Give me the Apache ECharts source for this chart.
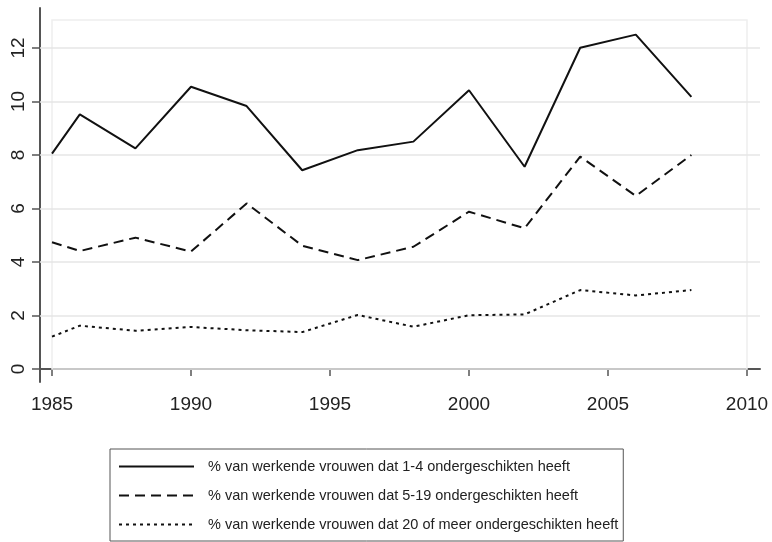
<!DOCTYPE html>
<html>
<head>
<meta charset="utf-8">
<script src="https://cdn.jsdelivr.net/npm/echarts@6/dist/echarts.min.js"></script>
<style>
  html, body { margin: 0; padding: 0; background: #fff; }
  #chart { width: 772px; height: 542px; }
</style>
</head>
<body>
<div id="chart"></div>
<script>
// jaren en percentages
const years = [1985, 1986, 1988, 1990, 1992, 1994, 1996, 1998, 2000, 2002, 2004, 2006, 2008];
const small = [8.05, 9.52, 8.25, 10.55, 9.83, 7.43, 8.18, 8.5, 10.42, 7.56, 12.01, 12.5, 10.17];
const medium = [4.74, 4.41, 4.91, 4.39, 6.19, 4.61, 4.07, 4.57, 5.88, 5.26, 7.94, 6.47, 8.0];
const large = [1.21, 1.62, 1.43, 1.57, 1.45, 1.38, 2.02, 1.58, 2.01, 2.04, 2.95, 2.75, 2.95];
const seriesNames = [
  '% van werkende vrouwen dat 1-4 ondergeschikten heeft',
  '% van werkende vrouwen dat 5-19 ondergeschikten heeft',
  '% van werkende vrouwen dat 20 of meer ondergeschikten heeft'
];
const xTicks = [1985, 1990, 1995, 2000, 2005, 2010];
const yTicks = [0, 2, 4, 6, 8, 10, 12];

const pairs = (vals) => years.map((y, i) => [y, vals[i]]);
const gridColor = '#e6e6e6';
const axisColor = '#555';
const font = 'Liberation Sans, Arial, sans-serif';

const chart = echarts.init(document.getElementById('chart'));

const lineSeries = (name, vals, type, width) => ({
  name: name,
  type: 'line',
  data: pairs(vals),
  showSymbol: false,
  symbol: 'none',
  lineStyle: { color: '#111', width: width, type: type },
  itemStyle: { color: '#111' },
  z: 5
});

const option = {
  animation: false,
  grid: { left: 40, right: 12, top: 8, bottom: 160 },
  xAxis: {
    type: 'value',
    min: 1984.568,
    max: 2010.468,
    axisLine: { show: true, lineStyle: { color: axisColor, width: 2 } },
    axisTick: { show: true, length: 7, customValues: xTicks, lineStyle: { color: axisColor, width: 1.5 } },
    axisLabel: {
      customValues: xTicks,
      formatter: (v) => String(v),
      color: '#222',
      fontSize: 19,
      fontFamily: font,
      margin: 13
    },
    splitLine: { show: false }
  },
  yAxis: {
    type: 'value',
    min: -0.486,
    max: 13.495,
    axisLine: { show: true, lineStyle: { color: axisColor, width: 2 } },
    axisTick: { show: true, length: 8, customValues: yTicks, lineStyle: { color: axisColor, width: 1.5 } },
    axisLabel: {
      customValues: yTicks,
      rotate: 90,
      color: '#222',
      fontSize: 19,
      fontFamily: font,
      margin: 12
    },
    splitLine: { show: false }
  },
  legend: {
    orient: 'vertical',
    left: 110,
    top: 449,
    itemWidth: 75,
    itemHeight: 14,
    itemGap: 14,
    padding: [10, 5, 9, 8],
    borderColor: '#555',
    borderWidth: 1,
    // alleen de lijn tonen, geen symbool
    itemStyle: { color: 'rgba(0,0,0,0)', borderWidth: 0, opacity: 0 },
    textStyle: { color: '#222', fontSize: 14.5, fontFamily: font, padding: [0, 0, 0, 9] },
    data: seriesNames
  },
  series: [
    {
      // rasterlijnen en kader van het plotgebied
      type: 'line',
      data: [],
      silent: true,
      markLine: {
        silent: true,
        symbol: 'none',
        label: { show: false },
        lineStyle: { color: gridColor, width: 1.5, type: 'solid' },
        data: yTicks.slice(1).map(v => ({ yAxis: v }))
      },
      markArea: {
        silent: true,
        itemStyle: { color: 'rgba(0,0,0,0)', borderColor: '#eeeeee', borderWidth: 1.5 },
        data: [[{ coord: [1985, 0] }, { coord: [2010, 13.05] }]]
      },
      z: 1
    },
    lineSeries(seriesNames[0], small, 'solid', 2),
    lineSeries(seriesNames[1], medium, [10, 6], 2),
    lineSeries(seriesNames[2], large, [3, 4], 2)
  ]
};

chart.setOption(option);
</script>
</body>
</html>
